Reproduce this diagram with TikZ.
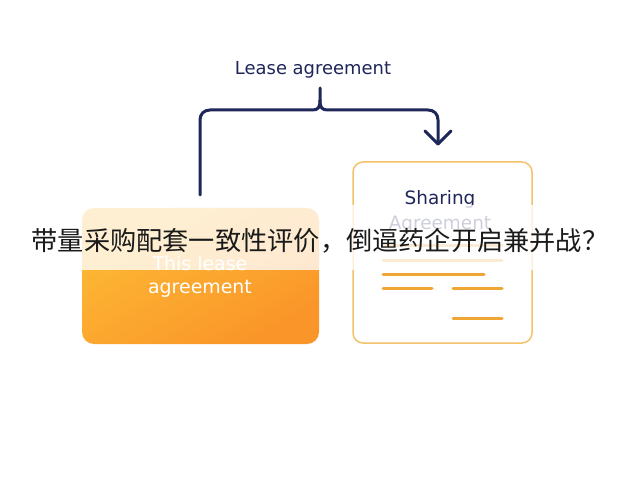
\documentclass[tikz,border=0pt]{standalone}
\usepackage{fontspec}
\setmainfont{DejaVu Sans}
\newfontfamily\cjk{Noto Sans CJK SC}
\usetikzlibrary{arrows.meta,calc}
\definecolor{navy}{HTML}{1F2659}
\definecolor{orline}{HTML}{F0A634}
\definecolor{orborder}{HTML}{F3C26A}
\definecolor{orlight}{HTML}{FDBA35}
\definecolor{ordark}{HTML}{FA9529}
\definecolor{txtdark}{HTML}{1A1A1A}
\tikzset{
  conn/.style={draw=navy, line width=3bp, line cap=round, line join=round},
  docline/.style={draw=orline, line width=3bp, line cap=round},
  lbl/.style={font=\fontsize{18}{21}\selectfont, text=navy, inner sep=0pt},
}
\begin{document}
\begin{tikzpicture}[x=1bp,y=-1bp]
\useasboundingbox (0,0) rectangle (640,480);
\fill[white] (0,0) rectangle (640,480);
% label and brace
\node[lbl] (title) at (313,70) {Lease agreement};
\coordinate (stem) at (320,88);
\coordinate (lend) at (200,195);
\coordinate (rtip) at (438,144);
\draw[conn] (stem) -- (320,100) .. controls (320,108) and (318,110) .. (312,110)
  -- (210,110) .. controls (204,110) and (200,114) .. (200,120) -- (lend);
\draw[conn] (320,100) .. controls (320,108) and (322,110) .. (328,110)
  -- (428,110) .. controls (434,110) and (438,114) .. (438,120) -- (rtip);
\draw[conn] (425,131) -- (rtip) -- (451,131);
% left box
\shade[rounded corners=12bp, top color=orlight, bottom color=ordark, shading angle=30]
  (82,208) rectangle (319,344);
\node[font=\fontsize{19}{23}\selectfont, text=white, align=center] (lbox) at (200,277) {This lease\\agreement};
% right box
\draw[orborder, line width=1.5bp, fill=white, rounded corners=10bp] (353,162) rectangle (532,343);
\node[font=\fontsize{18.5}{22}\selectfont, text=navy, inner sep=0pt] (sh) at (440,199) {Sharing};
\node[font=\fontsize{18.5}{22}\selectfont, text=navy, inner sep=0pt, anchor=base] (ag) at (440,230) {Agreement};
\draw[docline] (383,245) -- (502,245);
\draw[docline] (383,260) -- (502,260);
\draw[docline] (383,274) -- (484,274);
\draw[docline] (383,288) -- (432,288);
\draw[docline] (453,288) -- (502,288);
\draw[docline] (453,318) -- (502,318);
% banner
\fill[white, opacity=0.78] (0,205) rectangle (640,270);
\node[font=\cjk\fontsize{26.3}{30}\selectfont, text=txtdark, inner sep=0pt] (banner) at (320,241) {带量采购配套一致性评价，倒逼药企开启兼并战？};
\end{tikzpicture}
\end{document}
